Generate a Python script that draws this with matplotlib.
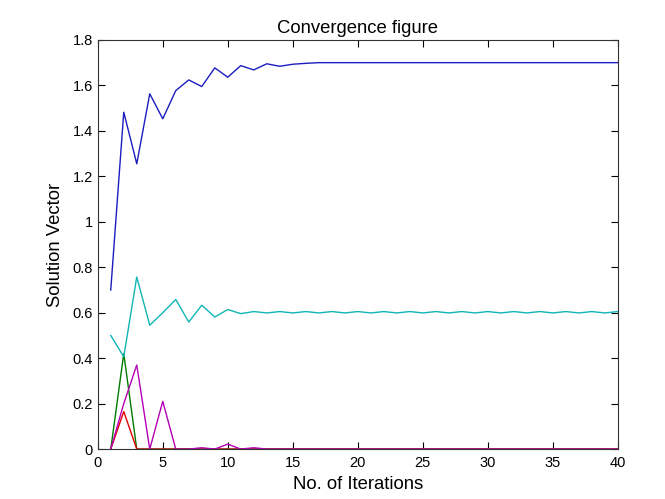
import numpy as np
import matplotlib.pyplot as plt

plt.rcParams['font.family'] = ['Liberation Sans', 'DejaVu Sans']

iterations = np.arange(1, 41)

# solution vector components per iteration
x1 = [0.70, 1.482, 1.255, 1.563, 1.453, 1.577, 1.624, 1.595, 1.677, 1.636,
      1.687, 1.668, 1.695, 1.684, 1.693, 1.697] + [1.70] * 24
x2 = [0.0, 0.42, 0.0] + [0.0] * 37
x3 = [0.0, 0.165, 0.0] + [0.0] * 37
x4 = [0.50, 0.406, 0.757, 0.545, 0.60, 0.658, 0.559, 0.633, 0.581, 0.614,
      0.596, 0.605, 0.599, 0.605, 0.599, 0.605, 0.599, 0.605, 0.599, 0.605,
      0.599, 0.605, 0.599, 0.605, 0.599, 0.605, 0.599, 0.605, 0.599, 0.605,
      0.599, 0.605, 0.599, 0.605, 0.599, 0.605, 0.599, 0.605, 0.599, 0.605]
x5 = [0.0, 0.20, 0.37, 0.0, 0.21, 0.0, 0.0, 0.006, 0.0, 0.022,
      0.0, 0.006, 0.0] + [0.0] * 27

colors = ['#1c1cc0', '#007a00', '#e00000', '#10b5b5', '#b400b4']

fig = plt.figure(figsize=(6.65, 4.99), dpi=100)
ax = fig.add_axes([0.147, 0.1, 0.782, 0.82])

for y, c in zip([x1, x2, x3, x4, x5], colors):
    ax.plot(iterations, y, color=c, linewidth=1.0)

ax.set_xlim(0, 40)
ax.set_ylim(0, 1.8)
ax.set_xticks(np.arange(0, 41, 5))
ax.set_yticks(np.arange(0, 1.81, 0.2))
ax.set_yticklabels(['0', '0.2', '0.4', '0.6', '0.8', '1', '1.2', '1.4', '1.6', '1.8'])
ax.tick_params(direction='in', top=True, right=True, labelsize=10.5, length=5)
ax.tick_params(axis='x', pad=5)
for s in ax.spines.values():
    s.set_color('#333333')

ax.set_title('Convergence figure', fontsize=13.3, pad=5)
ax.set_xlabel('No. of Iterations', fontsize=13.3, labelpad=4)
ax.set_ylabel('Solution Vector', fontsize=13.3, labelpad=6)

fig.savefig('out.png', dpi=100)
